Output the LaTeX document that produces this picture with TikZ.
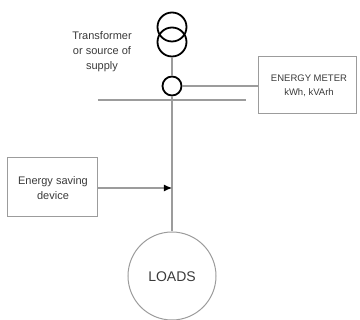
\documentclass[tikz,border=0pt]{standalone}
\usepackage{fontspec}
\setmainfont{Liberation Sans}
\usetikzlibrary{arrows.meta}
\definecolor{txt}{HTML}{3A3A3A}
\definecolor{ln}{HTML}{9C9C9C}
\begin{document}
\begin{tikzpicture}[x=1pt,y=-1pt,
  coil/.style={circle,draw=black,line width=1.8pt,inner sep=0pt,minimum size=29pt},
  ctring/.style={circle,draw=black,line width=1.8pt,inner sep=0pt,minimum size=19pt},
  wire/.style={draw=ln,line width=1.1pt},
  boxx/.style={draw=ln,line width=1pt,inner sep=0pt},
  lbl/.style={text=txt,font=\fontsize{11}{15}\selectfont,align=center,inner sep=0pt}]
\useasboundingbox (0,0) rectangle (360,320);
\node[coil] (trU) at (172,27) {};
\node[coil] (trL) at (172,42) {};
\node[ctring] (ct) at (172,86) {};
\node[circle,draw=ln,line width=1pt,minimum size=88pt,inner sep=0pt] (loads) at (172,276) {};
\node[lbl,font=\fontsize{14}{16}\selectfont] (loadstxt) at (172,277) {LOADS};
\node[boxx,minimum width=98pt,minimum height=57pt] (meter) at (308,85.5) {};
\node[lbl,font=\fontsize{9.5}{14}\selectfont] (metertxt) at (309,86) {ENERGY METER\\kWh, kVArh};
\node[boxx,minimum width=90pt,minimum height=59pt] (esd) at (53,187.5) {};
\node[lbl] (esdtxt) at (53,188.5) {Energy saving\\device};
\node[lbl] (trtxt) at (102,52) {Transformer\\or source of\\supply};
\coordinate (busL) at (98,100);
\coordinate (busR) at (246,100);
\coordinate (tip) at (172,188);
\draw[wire] (trL.south) -- (ct.north);
\draw[wire] (ct.south) -- (loads.north);
\draw[wire] (busL) -- (busR);
\draw[wire] (ct.east) -- (ct.east -| meter.west);
\draw[wire,-{Latex[black,length=8pt,width=7pt]}] (esd.east |- tip) -- (tip);
\end{tikzpicture}
\end{document}
